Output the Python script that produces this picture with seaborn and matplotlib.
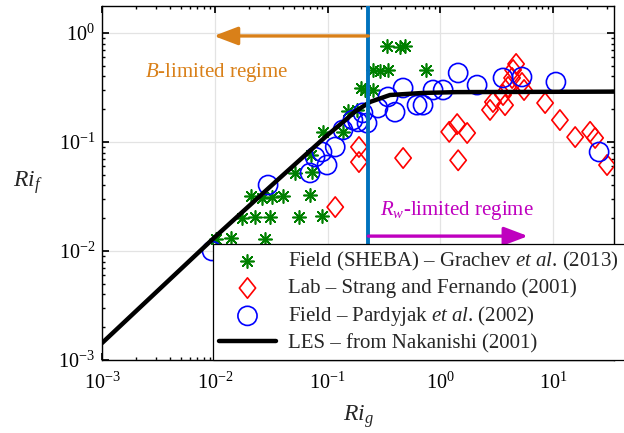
import matplotlib
matplotlib.use("Agg")
import matplotlib.pyplot as plt
from matplotlib.path import Path
import seaborn as sns

# Field (SHEBA) - Grachev et al. (2013)
sheba_rig = [0.0103, 0.0139, 0.0279, 0.0175, 0.0228, 0.0309, 0.0559, 0.0893,
             0.021, 0.0263, 0.0322, 0.0403, 0.070, 0.0515, 0.073, 0.072,
             0.091, 0.137, 0.152, 0.183, 0.215, 0.254, 0.20, 0.254, 0.29,
             0.344, 0.748, 0.337, 0.44, 0.487, 0.54]
sheba_rif = [0.0129, 0.0132, 0.0129, 0.0201, 0.0205, 0.0205, 0.0205, 0.0209,
             0.032, 0.0306, 0.031, 0.032, 0.0327, 0.052, 0.053, 0.076,
             0.124, 0.124, 0.192, 0.196, 0.30, 0.30, 0.31, 0.458, 0.45,
             0.458, 0.458, 0.76, 0.744, 0.76, 0.0091]

# Lab - Strang and Fernando (2001)
strang_rig = [0.117, 0.19, 0.19, 0.468, 1.2, 1.41, 1.73, 1.44, 2.76, 2.93,
              3.75, 3.6, 3.99, 4.33, 4.42, 4.7, 5.3, 5.53, 8.5, 11.5, 15.7,
              21.3, 23.6, 30.1]
strang_rif = [0.0253, 0.09, 0.0655, 0.0713, 0.124, 0.146, 0.121, 0.068, 0.197,
              0.233, 0.218, 0.27, 0.32, 0.387, 0.458, 0.52, 0.348, 0.30, 0.228,
              0.159, 0.111, 0.124, 0.109, 0.0615]

# Field - Pardyjak et al. (2002)
pardyjak_rig = [0.00946, 0.0297, 0.070, 0.0775, 0.0893, 0.099, 0.117, 0.137,
                0.168, 0.186, 0.206, 0.224, 0.28, 0.344, 0.397, 0.468, 0.622,
                0.703, 0.863, 1.06, 1.44, 2.12, 3.6, 5.3, 10.6, 25.6]
pardyjak_rif = [0.0100, 0.0403, 0.052, 0.0728, 0.081, 0.0615, 0.09, 0.129,
                0.159, 0.153, 0.185, 0.149, 0.205, 0.259, 0.188, 0.313, 0.218,
                0.218, 0.30, 0.30, 0.43, 0.333, 0.387, 0.395, 0.355, 0.081]

# LES - from Nakanishi (2001)
les_rig = [0.001, 0.01, 0.036, 0.1, 0.137, 0.175, 0.238, 0.358, 0.7, 1.4, 35]
les_rif = [0.00143, 0.0134, 0.0448, 0.116, 0.152, 0.19, 0.233, 0.27, 0.282,
           0.287, 0.29]

rig_crit = 0.23
b_arrow_x = [rig_crit, 0.0098]
b_arrow_y = 0.94
rw_arrow_x = [rig_crit, 6.0]
rw_arrow_y = 0.0137

sns.set_theme(style="ticks")
plt.rcParams.update({
    "font.family": ["Liberation Serif", "DejaVu Serif"],
    "mathtext.fontset": "custom",
    "mathtext.rm": "Liberation Serif",
    "mathtext.it": "Liberation Serif:italic",
    "mathtext.bf": "Liberation Serif:bold",
    "xtick.direction": "in", "ytick.direction": "in",
    "xtick.top": True, "ytick.right": True,
    "xtick.minor.visible": True, "ytick.minor.visible": True,
    "xtick.major.size": 5, "ytick.major.size": 5,
    "xtick.minor.size": 2.5, "ytick.minor.size": 2.5,
    "xtick.major.pad": 9, "ytick.major.pad": 5,
    "axes.edgecolor": "black", "axes.linewidth": 1.0,
    "xtick.color": "black", "ytick.color": "black",
})

fig = plt.figure(figsize=(6.24, 4.33), dpi=100)
ax = fig.add_axes([102 / 624, 1 - 360 / 433, 512 / 624, 354 / 433])
ax.set_xscale("log")
ax.set_yscale("log")

diamond = Path([(0, 1), (0.8, 0), (0, -1), (-0.8, 0), (0, 1)],
               [Path.MOVETO, Path.LINETO, Path.LINETO, Path.LINETO, Path.CLOSEPOLY])

sns.scatterplot(x=sheba_rig, y=sheba_rif, marker=(8, 2, 0), s=90,
                facecolor="#008000", edgecolor="#008000", linewidth=1.2,
                label=r"Field (SHEBA) – Grachev $\mathit{et\ al}$. (2013)", ax=ax, zorder=3)
sns.scatterplot(x=strang_rig, y=strang_rif, marker=diamond, s=215,
                facecolor="none", edgecolor="red", linewidth=1.2,
                label="Lab – Strang and Fernando (2001)", ax=ax, zorder=3)
sns.scatterplot(x=pardyjak_rig, y=pardyjak_rif, marker="o", s=190,
                facecolor="none", edgecolor="blue", linewidth=1.2,
                label=r"Field – Pardyjak $\mathit{et\ al}$. (2002)", ax=ax, zorder=4)
sns.lineplot(x=les_rig, y=les_rif, color="black", linewidth=3.2, sort=False,
             label="LES – from Nakanishi (2001)", ax=ax, zorder=5)

ax.axvline(rig_crit, color="#0072BD", linewidth=2.8, zorder=6)

orange = "#D98019"
magenta = "#BF00BF"
ax.annotate("", xy=(b_arrow_x[1], b_arrow_y), xytext=(b_arrow_x[0], b_arrow_y),
            arrowprops=dict(arrowstyle="-|>,head_length=1.45,head_width=0.55",
                            color=orange, lw=2.4, mutation_scale=10,
                            shrinkA=0, shrinkB=0), zorder=6)
ax.annotate("", xy=(rw_arrow_x[1], rw_arrow_y), xytext=(rw_arrow_x[0], rw_arrow_y),
            arrowprops=dict(arrowstyle="-|>,head_length=1.45,head_width=0.55",
                            color=magenta, lw=2.4, mutation_scale=10,
                            shrinkA=0, shrinkB=0), zorder=6)
ax.text(0.0024, 0.43, r"$B$-limited regime", color=orange, fontsize=15,
        ha="left", va="center")
ax.text(0.29, 0.0233, r"$R_w$-limited regime", color=magenta, fontsize=15,
        ha="left", va="center")

ax.set_xlim(1e-3, 34.7)
ax.set_ylim(1e-3, 1.77)
ax.grid(True, which="major", color="#e3e3e3", linewidth=0.9)
ax.set_axisbelow(True)
ax.tick_params(labelsize=14.5)

ax.set_xlabel(r"$Ri_g$", fontsize=17, va="top")
ax.set_ylabel(r"$Ri_f$", fontsize=17, rotation=0, va="center", ha="center")
ax.yaxis.set_label_coords(-0.145, 0.5)
ax.xaxis.set_label_coords(0.5, -0.122)

leg = ax.legend(loc="lower left", bbox_to_anchor=(0.217, 0.0), borderaxespad=0,
                fontsize=15, frameon=True, fancybox=False, framealpha=1,
                edgecolor="black", labelspacing=0.28, handlelength=2.7,
                handletextpad=0.6, borderpad=0.3)
leg.get_frame().set_linewidth(0.9)
leg.set_zorder(10)

fig.savefig("out.png", dpi=100)
